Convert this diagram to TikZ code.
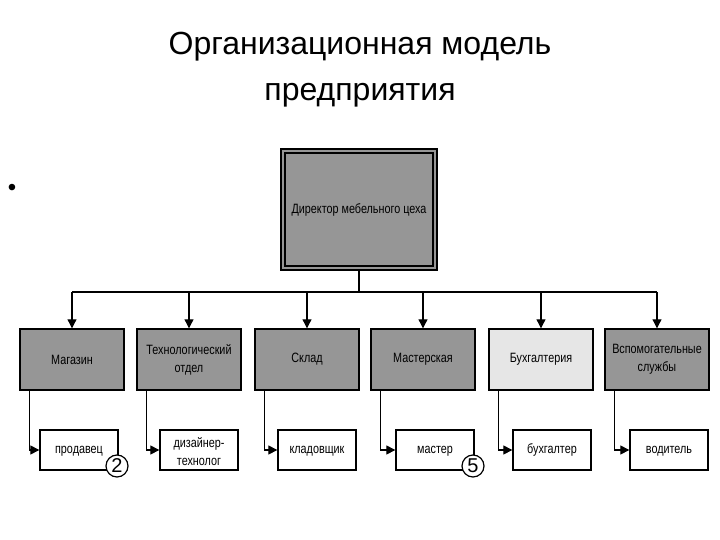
\documentclass[tikz,border=0pt]{standalone}
\usepackage{fontspec}
\setmainfont{Liberation Sans}
\newfontfamily\narrow[FakeStretch=0.8]{Liberation Sans}
\usetikzlibrary{arrows.meta}
\definecolor{boxgray}{RGB}{150,150,150}
\definecolor{lightbox}{RGB}{230,230,230}
\tikzset{
 unit/.style={draw=black,line width=1.4pt,fill=boxgray,minimum width=104pt,minimum height=61pt,align=center,font=\narrow\fontsize{13.5}{18}\selectfont,inner sep=1pt},
 sub/.style={draw=black,line width=1.3pt,fill=white,minimum width=78pt,minimum height=40pt,align=center,font=\narrow\fontsize{13.5}{18}\selectfont,inner sep=1pt},
 conn/.style={line width=1.1pt,-{Triangle[length=9pt,width=9pt]}},
 num/.style={circle,draw=black,line width=1.2pt,fill=white,minimum size=22pt,inner sep=0pt,font=\fontsize{20}{20}\selectfont}
}
\begin{document}
\begin{tikzpicture}[x=1pt,y=-1pt]
\useasboundingbox (0,0) rectangle (720,540);
\node[font=\fontsize{32}{46}\selectfont,align=center] (title) at (360,70) {Организационная модель\\предприятия};
\node[font=\fontsize{24}{24}\selectfont] (bul) at (12,190) {•};
\node[draw=black,line width=1.4pt,fill=boxgray,minimum width=156pt,minimum height=121pt] (dir) at (359,209.5) {};
\node[draw=black,line width=1.2pt,minimum width=148pt,minimum height=113pt,inner sep=0pt,font=\narrow\fontsize{13.5}{18}\selectfont] (dirin) at (359,209.5) {Директор мебельного цеха};
\coordinate (bus) at (359,292);
\draw[line width=1.1pt] (dir.south) -- (bus);
\draw[line width=1.1pt] (72,292) -- (657,292);
\foreach \n/\x/\t/\f in {a/72/Магазин/boxgray,b/189/Технологический\\отдел/boxgray,c/307/Склад/boxgray,d/423/Мастерская/boxgray,e/541/Бухгалтерия/lightbox,f/657/Вспомогательные\\службы/boxgray}{
  \node[unit,fill=\f] (\n) at (\x,359.5) {\t};
  \coordinate (t\n) at (\x,292);
  \draw[conn] (t\n) -- (\n.north);
}
\foreach \n/\x/\t in {a/79/продавец,b/199/дизайнер-\\технолог,c/317/кладовщик,d/435/мастер,e/552/бухгалтер,f/669/водитель}{
  \node[sub] (s\n) at (\x,450) {\strut\t};
  \draw[conn] ([xshift=10pt]\n.south west) |- (s\n.west);
}
\node[num] (n2) at (117,466) {2};
\node[num] (n5) at (473,466) {5};
\end{tikzpicture}
\end{document}
